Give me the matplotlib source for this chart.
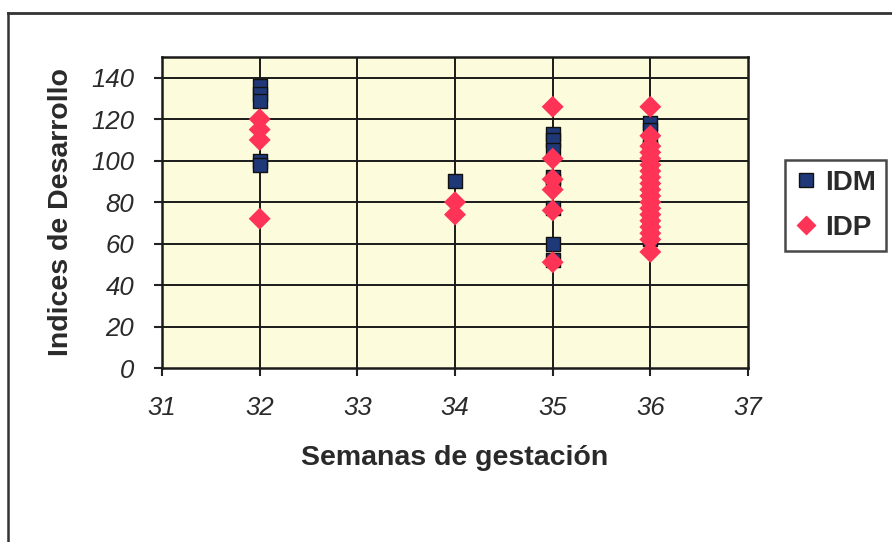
import matplotlib
matplotlib.use("Agg")
import matplotlib.pyplot as plt
from matplotlib.lines import Line2D

# Data
idm_x = [32, 32, 32, 32, 32,
         34,
         35, 35, 35, 35, 35, 35, 35, 35,
         36, 36, 36, 36, 36, 36, 36, 36, 36, 36, 36, 36, 36, 36, 36]
idm_y = [136, 132, 129, 100, 98,
         90,
         113, 110, 105, 92, 90, 77, 60, 52,
         118, 115, 110, 106, 100, 96, 92, 88, 85, 80, 76, 72, 68, 64, 62]

idp_x = [32, 32, 32, 32,
         34, 34,
         35, 35, 35, 35, 35, 35,
         36, 36, 36, 36, 36, 36, 36, 36, 36, 36, 36, 36, 36, 36, 36, 36, 36, 36, 36]
idp_y = [120, 115, 110, 72,
         80, 74,
         126, 101, 91, 86, 76, 51,
         126, 112, 107, 104, 101, 98, 95, 92, 89, 86, 83, 80, 77, 74, 71, 68, 65, 62, 56]

x_ticks = [31, 32, 33, 34, 35, 36, 37]
y_ticks = [0, 20, 40, 60, 80, 100, 120, 140]

plt.rcParams['font.family'] = ['Liberation Sans', 'DejaVu Sans']

fig = plt.figure(figsize=(8.92, 5.42), dpi=100)
fig.patch.set_facecolor('white')

ax = fig.add_axes([162/892, 1 - 368/542, (748-162)/892, (368-57)/542])
ax.set_facecolor('#fcfbdc')

ax.set_xlim(31, 37)
ax.set_ylim(0, 150)
ax.set_xticks(x_ticks)
ax.set_yticks(y_ticks)
ax.set_xticklabels([str(t) for t in x_ticks], fontsize=18.5, style='italic', color='#2a2a2a')
ax.set_yticklabels([str(t) for t in y_ticks], fontsize=18.5, style='italic', color='#2a2a2a')
ax.tick_params(axis='both', direction='out', length=6, width=1.5, color='#222222')
ax.tick_params(axis='y', pad=14)
ax.tick_params(axis='x', pad=14)

for y in y_ticks[1:]:
    ax.axhline(y, color='#1a1a1a', lw=1.4, zorder=1)
for x in x_ticks[1:-1]:
    ax.axvline(x, color='#1a1a1a', lw=1.4, zorder=1)

for s in ax.spines.values():
    s.set_linewidth(1.8)
    s.set_color('#1a1a1a')

ax.scatter(idm_x, idm_y, marker='s', s=115, c='#1f3878', edgecolors='#111111',
           linewidths=1.0, zorder=3, label='IDM')
ax.scatter(idp_x, idp_y, marker='D', s=125, c='#ff3355', edgecolors='none',
           zorder=4, label='IDP')

ax.set_xlabel('Semanas de gestación', fontsize=20.5, fontweight='bold', color='#2a2a2a', labelpad=18)
ax.set_ylabel('Indices de Desarrollo', fontsize=20.5, fontweight='bold', color='#2a2a2a', labelpad=12)

leg = fig.legend(handles=[
    Line2D([], [], marker='s', ls='none', markersize=10, markerfacecolor='#1f3878',
           markeredgecolor='#111111', label='IDM'),
    Line2D([], [], marker='D', ls='none', markersize=10, markerfacecolor='#ff3355',
           markeredgecolor='none', label='IDP')],
    loc='upper left', bbox_to_anchor=(785/892, 1 - 160/542), borderaxespad=0,
    frameon=True, fancybox=False, handletextpad=0.3, handlelength=0.8,
    borderpad=0.36, labelspacing=0.68, prop={'size': 20, 'weight': 'bold'})
leg.get_frame().set_edgecolor('#1a1a1a')
leg.get_frame().set_linewidth(1.8)
for t in leg.get_texts():
    t.set_color('#2a2a2a')

# outer chart border (left and top visible)
fig.add_artist(Line2D([8/892, 8/892], [0, 1 - 13/542], transform=fig.transFigure,
                      color='#333333', lw=1.8))
fig.add_artist(Line2D([8/892, 1], [1 - 13/542, 1 - 13/542], transform=fig.transFigure,
                      color='#333333', lw=2.0))

fig.savefig('out.png', dpi=100)
